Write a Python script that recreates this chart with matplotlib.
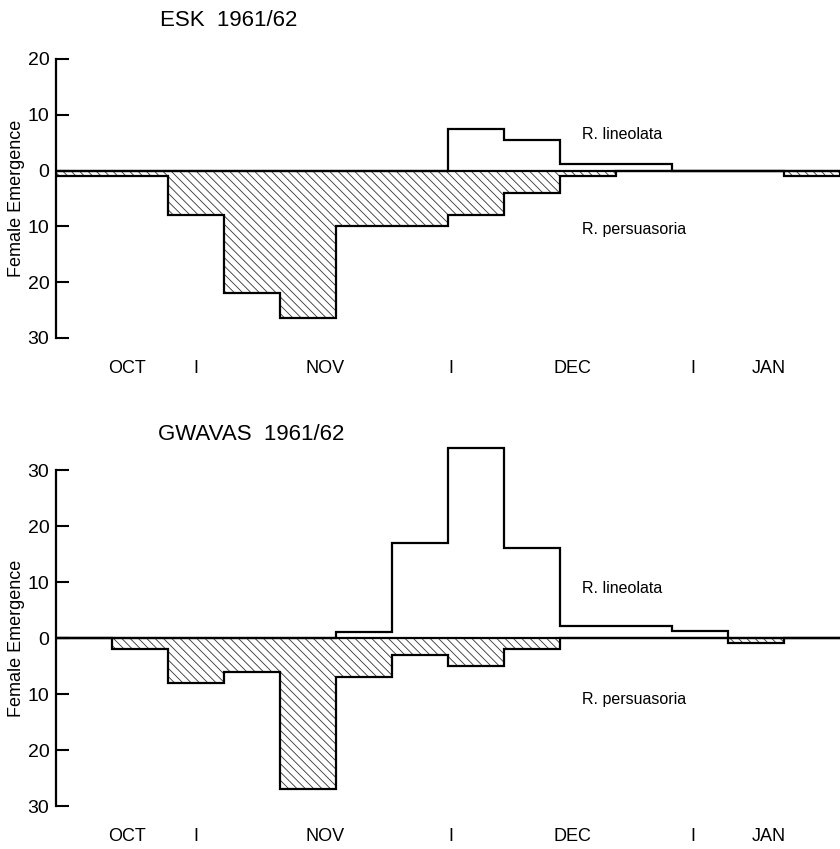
import matplotlib
matplotlib.use("Agg")
import matplotlib.pyplot as plt
import numpy as np

plt.rcParams['font.family'] = ['Liberation Sans', 'DejaVu Sans']
plt.rcParams['hatch.linewidth'] = 0.6

# weekly bins, Oct 1961 - Jan 1962
weeks = np.arange(15)

esk_lineolata = [0, 0, 0, 0, 0, 0, 0, 7.5, 5.5, 1.2, 1.2, 0, 0, 0]
esk_persuasoria = [1, 1, 8, 22, 26.5, 10, 10, 8, 4, 1, 0, 0, 0, 1]

gwavas_lineolata = [0, 0, 0, 0, 0, 1, 17, 34, 16, 2.2, 2.2, 1.3, 0, 0]
gwavas_persuasoria = [0, 2, 8, 6, 27, 7, 3, 5, 2, 0, 0, 0, 0.8, 0]

month_pos = [1.27, 2.5, 4.8, 7.04, 9.22, 11.38, 12.72]
month_labels = ['OCT', 'I', 'NOV', 'I', 'DEC', 'I', 'JAN']

fig = plt.figure(figsize=(8.4, 8.49), dpi=100)
ax1 = fig.add_axes([0.067, 0.602, 0.933, 0.3286])
ax2 = fig.add_axes([0.067, 0.0506, 0.933, 0.3958])


def panel(ax, lin, per, ymax, title, tx, ty):
    per_neg = -np.array(per)
    ax.stairs(per_neg, weeks, baseline=0, fill=True, facecolor='white',
              edgecolor='#333333', linewidth=0, hatch='\\\\\\\\')
    ax.stairs(per_neg, weeks, baseline=0, color='black', lw=1.6)
    ax.stairs(lin, weeks, baseline=0, color='black', lw=1.6, clip_on=False)
    ax.axhline(0, color='black', lw=1.6)

    ax.set_xlim(0, 14)
    ax.set_ylim(-30, ymax)
    yt = np.arange(-30, ymax + 1, 10)
    ax.set_yticks(yt)
    ax.set_yticklabels([str(abs(v)) for v in yt])
    ax.tick_params(axis='y', direction='in', length=9, width=1.5,
                   labelsize=14, pad=5)
    ax.set_xticks(month_pos)
    ax.set_xticklabels(month_labels)
    ax.tick_params(axis='x', length=0, labelsize=13, pad=16)

    for s in ['top', 'right', 'bottom']:
        ax.spines[s].set_visible(False)
    ax.spines['left'].set_linewidth(1.6)

    ax.set_ylabel('Female Emergence', fontsize=13)
    ax.yaxis.set_label_coords(-0.04, 0.5)

    ax.text(9.39, 6.5 if ymax == 20 else 8.9, 'R. lineolata', fontsize=11.5,
            va='center', ha='left')
    ax.text(9.39, -10.6 if ymax == 20 else -11, 'R. persuasoria', fontsize=11.5,
            va='center', ha='left')
    fig.text(tx, ty, title, fontsize=16, ha='left', va='center')


panel(ax1, esk_lineolata, esk_persuasoria, 20, 'ESK  1961/62',
      160 / 840, 1 - 20 / 849)
panel(ax2, gwavas_lineolata, gwavas_persuasoria, 30, 'GWAVAS  1961/62',
      158 / 840, 1 - 434 / 849)

fig.savefig('out.png', dpi=100)
